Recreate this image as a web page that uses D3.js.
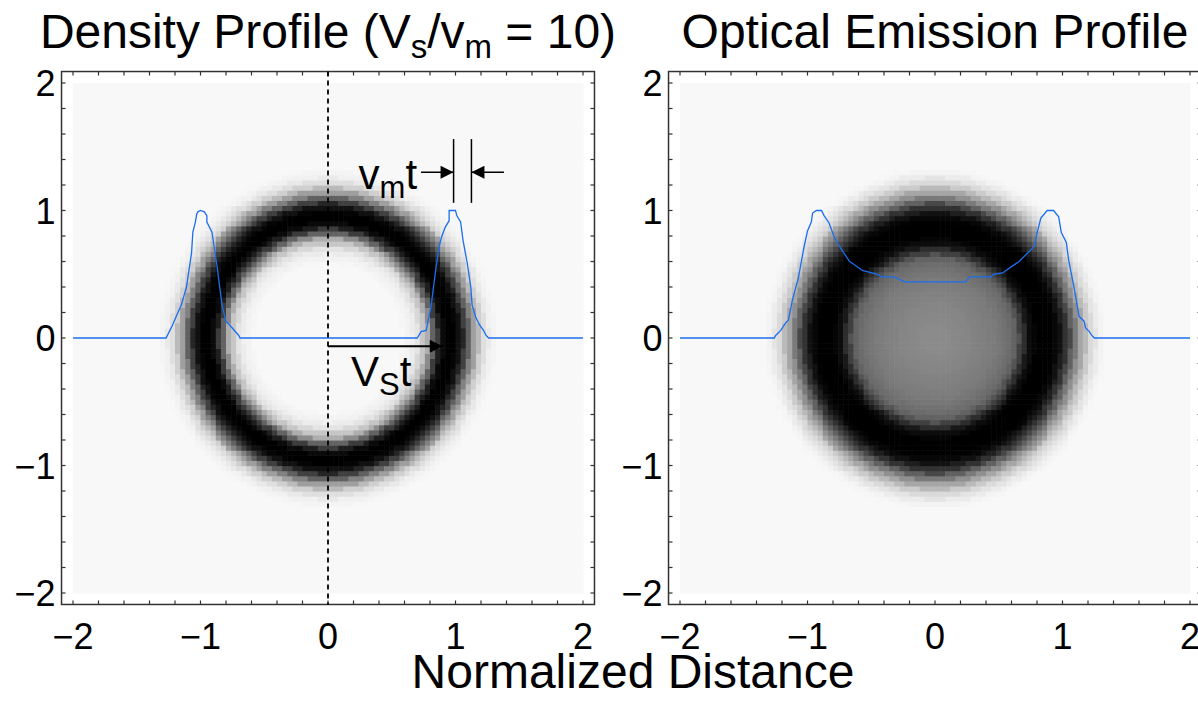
<html>
<head>
<meta charset="utf-8">
<script src="https://cdnjs.cloudflare.com/ajax/libs/d3/7.8.5/d3.min.js"></script>
<style>
  body { margin: 0; background: #fff; }
  text { font-family: "Liberation Sans", Arial, sans-serif; fill: #000; }
</style>
</head>
<body>
<svg id="chart" width="1198" height="707"></svg>
<script>
// radial darkness profiles (0 = background, 1 = black), sampled every 0.025 in r
const profileStep = 0.025
const densityProfile = [0,0,0,0,0,0,0,0,0,0,0,0,0,0,0,0,0,0,0,0,0,0,0,0,
  0.01,0.02,0.03,0.05,0.08,0.13,0.2,0.3,0.44,0.6,0.76,0.88,0.96,1,1,1,0.98,0.93,0.85,0.74,0.61,0.48,0.36,0.25,0.16,0.1,0.06,0.03,0.015,0.005,
  0,0,0,0,0,0,0,0,0,0,0,0,0,0,0,0,0,0,0,0,0,0,0,0,0,0,0]
const emissionProfile = [0.44,0.44,0.44,0.44,0.44,0.445,0.45,0.45,0.455,0.46,0.46,0.465,0.47,0.475,0.48,0.485,0.49,0.495,0.5,0.51,0.52,0.53,0.54,0.555,0.57,0.6,
  0.66,0.74,0.82,0.9,0.95,0.98,1,1,1,1,1,0.99,0.97,0.93,0.88,0.8,0.71,0.61,0.51,0.42,0.33,0.25,0.18,0.12,0.08,0.05,0.02,0.01,
  0,0,0,0,0,0,0,0,0,0,0,0,0,0,0,0,0,0,0,0,0,0,0,0,0,0,0]

// horizontal cut through each image (blue lines)
const densityCutX = [-2,-1.27,-1.22,-1.19,-1.15,-1.11,-1.07,-1.06,-1.04,-1.03,-1.02,-1.0,-0.97,-0.95,-0.95,-0.91,-0.87,-0.83,-0.80,-0.77,-0.70,-0.69,0.70,0.73,0.77,0.81,0.84,0.87,0.89,0.92,0.95,0.95,1.0,1.01,1.04,1.06,1.09,1.12,1.13,1.16,1.19,1.22,1.24,1.26,2]
const densityCutY = [0,0,0.10,0.17,0.26,0.40,0.67,0.83,0.91,0.97,0.99,1.0,0.99,0.96,0.91,0.83,0.56,0.25,0.13,0.10,0.02,0,0,0.05,0.06,0.26,0.50,0.71,0.79,0.87,0.92,1.0,1.0,0.96,0.91,0.76,0.60,0.40,0.26,0.16,0.10,0.06,0.02,0,0]
const emissionCutX = [-2,-1.26,-1.25,-1.21,-1.17,-1.15,-1.12,-1.07,-1.03,-1.0,-0.97,-0.96,-0.93,-0.89,-0.87,-0.83,-0.79,-0.75,-0.67,-0.64,-0.57,-0.45,-0.42,-0.32,-0.24,0.24,0.27,0.44,0.46,0.53,0.60,0.66,0.78,0.80,0.83,0.88,0.93,0.97,0.99,1.03,1.05,1.09,1.13,1.17,1.18,1.21,1.23,1.25,2]
const emissionCutY = [0,0,0.02,0.06,0.12,0.14,0.29,0.48,0.70,0.84,0.91,0.98,1.0,1.0,0.96,0.90,0.79,0.72,0.60,0.58,0.53,0.50,0.48,0.48,0.44,0.44,0.48,0.48,0.50,0.51,0.56,0.60,0.72,0.82,0.94,1.0,1.0,0.95,0.83,0.75,0.60,0.40,0.17,0.13,0.08,0.05,0.02,0,0]

const majorTicks = [-2,-1,0,1,2]
const minorTicks = d3.range(-20, 21, 2).map(d => d / 10)

const svg = d3.select("#chart")
const gray = d3.interpolateRgb("#f8f8f8", "#000000")
const cell = 0.04
const cells = []
for (let i = 0; i < 100; i++) {
  for (let j = 0; j < 100; j++) {
    cells.push({x: -2 + i * cell, y: -2 + j * cell})
  }
}

function drawPanel(left, profile, cutX, cutY) {
  const xScale = d3.scaleLinear().domain([-2, 2]).range([left, left + 510])
  const yScale = d3.scaleLinear().domain([-2, 2]).range([593, 83])
  const g = svg.append("g")

  // image
  g.append("g").selectAll("rect").data(cells).join("rect")
    .attr("x", d => xScale(d.x))
    .attr("y", d => yScale(d.y + cell))
    .attr("width", xScale(cell) - xScale(0) + 0.6)
    .attr("height", yScale(0) - yScale(cell) + 0.6)
    .attr("fill", d => {
      const r = Math.hypot(d.x + cell / 2, d.y + cell / 2)
      const k = Math.min(profile.length - 1, Math.round(r / profileStep))
      return gray(profile[k])
    })

  // frame
  const x0 = xScale(-2.09), x1 = xScale(2.09), y0 = yScale(2.09), y1 = yScale(-2.09)
  g.append("rect")
    .attr("x", x0).attr("y", y0).attr("width", x1 - x0).attr("height", y1 - y0)
    .attr("fill", "none").attr("stroke", "#333").attr("stroke-width", 1.5)

  const tickStyle = sel => sel.attr("stroke", "#333").attr("stroke-width", 1.2)
  g.append("g").selectAll("line").data(minorTicks).join("line")
    .attr("x1", d => xScale(d)).attr("x2", d => xScale(d)).attr("y1", y1).attr("y2", y1 - 4).call(tickStyle)
  g.append("g").selectAll("line").data(minorTicks).join("line")
    .attr("x1", d => xScale(d)).attr("x2", d => xScale(d)).attr("y1", y0).attr("y2", y0 + 4).call(tickStyle)
  g.append("g").selectAll("line").data(minorTicks).join("line")
    .attr("y1", d => yScale(d)).attr("y2", d => yScale(d)).attr("x1", x0).attr("x2", x0 + 4).call(tickStyle)
  g.append("g").selectAll("line").data(minorTicks).join("line")
    .attr("y1", d => yScale(d)).attr("y2", d => yScale(d)).attr("x1", x1).attr("x2", x1 - 4).call(tickStyle)

  const fmt = d3.format("d")
  g.append("g").selectAll("text").data(majorTicks).join("text")
    .attr("x", d => xScale(d)).attr("y", 649)
    .attr("text-anchor", "middle").style("font-size", "36px")
    .text(fmt)
  g.append("g").selectAll("text").data(majorTicks).join("text")
    .attr("x", x0 - 6).attr("y", d => yScale(d) + 13)
    .attr("text-anchor", "end").style("font-size", "36px")
    .text(fmt)

  // profile cut
  const pts = cutX.map((x, i) => [x, cutY[i]])
  g.append("path").datum(pts)
    .attr("fill", "none").attr("stroke", "#1b6ef0").attr("stroke-width", 1.3)
    .attr("d", d3.line().x(d => xScale(d[0])).y(d => yScale(0) - (yScale(0) - yScale(1)) * d[1]))

  const t = g.append("text").attr("x", xScale(0)).attr("y", 48)
    .attr("text-anchor", "middle").style("font-size", "48px")
  return {g, xScale, yScale, t}
}

const p1 = drawPanel(73, densityProfile, densityCutX, densityCutY)
p1.t.text("Density Profile (V")
p1.t.append("tspan").attr("dy", 10).style("font-size", "33px").text("s")
p1.t.append("tspan").attr("dy", -10).text("/v")
p1.t.append("tspan").attr("dy", 10).style("font-size", "33px").text("m")
p1.t.append("tspan").attr("dy", -10).text(" = 10)")

const p2 = drawPanel(680, emissionProfile, emissionCutX, emissionCutY)
p2.t.text("Optical Emission Profile")

// annotations on density panel
const xs = p1.xScale, ys = p1.yScale
svg.append("defs").append("marker")
  .attr("id", "arrow").attr("viewBox", "0 0 10 10").attr("refX", 10).attr("refY", 5)
  .attr("markerWidth", 18).attr("markerHeight", 13).attr("markerUnits", "userSpaceOnUse").attr("orient", "auto")
  .append("path").attr("d", "M0,0L10,5L0,10Z").attr("fill", "#000")

p1.g.append("line")
  .attr("x1", xs(0)).attr("x2", xs(0)).attr("y1", ys(2.09)).attr("y2", ys(-2.09))
  .attr("stroke", "#000").attr("stroke-width", 1.8).attr("stroke-dasharray", "5,4")

p1.g.append("line")
  .attr("x1", xs(0)).attr("x2", xs(0.9)).attr("y1", ys(-0.065)).attr("y2", ys(-0.065))
  .attr("stroke", "#000").attr("stroke-width", 2).attr("marker-end", "url(#arrow)")
const vs = p1.g.append("text").attr("x", xs(0.18)).attr("y", ys(-0.38)).style("font-size", "42px")
vs.text("V")
vs.append("tspan").attr("dy", 9).style("font-size", "31px").text("S")
vs.append("tspan").attr("dy", -9).text("t")

;[0.985, 1.125].forEach(v => {
  p1.g.append("line").attr("x1", xs(v)).attr("x2", xs(v)).attr("y1", ys(1.56)).attr("y2", ys(1.06))
    .attr("stroke", "#000").attr("stroke-width", 1.5)
})
p1.g.append("line")
  .attr("x1", xs(0.73)).attr("x2", xs(0.985)).attr("y1", ys(1.3)).attr("y2", ys(1.3))
  .attr("stroke", "#000").attr("stroke-width", 1.5).attr("marker-end", "url(#arrow)")
p1.g.append("line")
  .attr("x1", xs(1.38)).attr("x2", xs(1.125)).attr("y1", ys(1.3)).attr("y2", ys(1.3))
  .attr("stroke", "#000").attr("stroke-width", 1.5).attr("marker-end", "url(#arrow)")
const vm = p1.g.append("text").attr("x", xs(0.24)).attr("y", ys(1.17)).style("font-size", "42px")
vm.text("v")
vm.append("tspan").attr("dy", 9).style("font-size", "31px").text("m")
vm.append("tspan").attr("dy", -9).text("t")

svg.append("text").attr("x", 633).attr("y", 688)
  .attr("text-anchor", "middle").style("font-size", "48px")
  .text("Normalized Distance")
</script>
</body>
</html>
